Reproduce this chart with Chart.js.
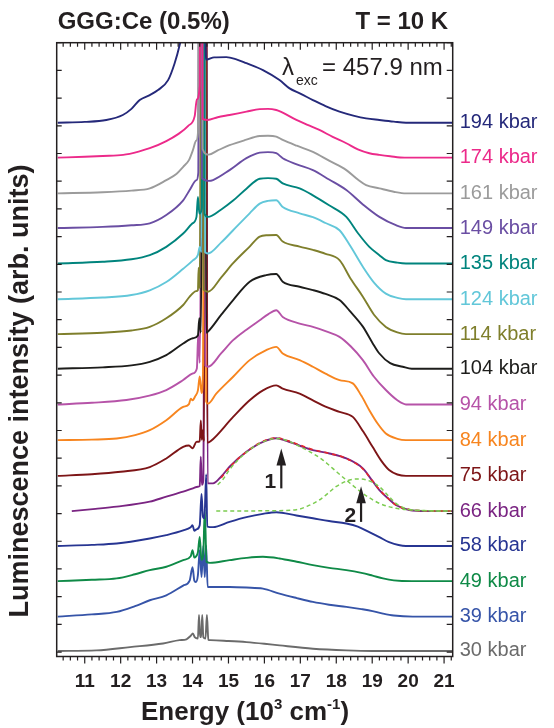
<!DOCTYPE html>
<html>
<head>
<meta charset="utf-8">
<script src="https://cdn.jsdelivr.net/npm/chart.js@4.4.1/dist/chart.umd.min.js"></script>
<style>
html,body{margin:0;padding:0;background:#ffffff;}
#wrap{width:554px;height:728px;position:relative;}
</style>
</head>
<body>
<div id="wrap"><canvas id="c"></canvas></div>
<script>
// ---------------- DATA ----------------
const pressures = ['194 kbar','174 kbar','161 kbar','149 kbar','135 kbar','124 kbar','114 kbar','104 kbar',
                   '94 kbar','84 kbar','75 kbar','66 kbar','58 kbar','49 kbar','39 kbar','30 kbar'];
const colors = ['#25297a','#ec2a8a','#9b9b9b','#6a4ea3','#00847d','#62c7d9','#7f7f2c','#1d1d1b',
                '#b653a8','#f7851f','#7d1517','#7a2482','#273592','#0f8a47','#3654a8','#6b6b6b'];
// vertical offset (baseline) of every spectrum, in plot units
const offsets = [19.11,17.85,16.56,15.31,14.03,12.74,11.48,10.23,8.94,7.65,6.36,5.09,3.83,2.56,1.28,0.04];

// spectra: [energy (10^3 cm^-1), intensity above own baseline]; 30 = clipped off the top of the frame
const s194 = [[10.25,0],[11.0,0.03],[11.6,0.1],[12.06,0.28],[12.3,0.5],[12.53,0.82],[12.81,1.0],[13.04,1.18],[13.32,1.54],[13.5,2.14],[13.64,2.8],[13.75,3.5],[14.0,5],[14.25,8],[14.33,30],[14.36,3],[14.39,2.28],[14.6,2.36],[14.94,2.37],[15.2,2.3],[15.5,2.15],[15.96,1.9],[16.42,1.54],[16.7,1.24],[17.0,1.05],[17.35,0.82],[17.7,0.6],[18.09,0.4],[18.5,0.25],[18.83,0.16],[19.2,0.1],[19.6,0.04],[19.94,0],[21.24,0]];
const s174 = [[10.25,0],[11.0,0.03],[11.5,0.06],[12.07,0.1],[12.5,0.22],[12.81,0.34],[13.27,0.6],[13.6,0.85],[13.88,1.15],[14.06,1.5],[14.12,2.1],[14.2,2.6],[14.24,30],[14.28,1.4],[14.42,1.36],[14.7,1.46],[15.03,1.54],[15.5,1.66],[15.87,1.75],[16.1,1.76],[16.33,1.72],[16.45,1.66],[16.89,1.36],[17.2,1.18],[17.53,1.0],[17.9,0.75],[18.28,0.52],[18.6,0.3],[18.92,0.16],[19.2,0.1],[19.5,0.05],[19.9,0],[21.24,0]];
const s161 = [[10.25,0],[11.5,0.04],[12.3,0.1],[12.81,0.18],[13.27,0.48],[13.55,0.7],[13.74,0.96],[13.9,1.2],[14.01,1.56],[14.1,1.9],[14.15,2.17],[14.22,30],[14.28,1.6],[14.45,1.4],[14.7,1.55],[15.03,1.74],[15.45,1.92],[15.87,2.07],[16.1,2.08],[16.33,2.05],[16.51,1.93],[16.9,1.72],[17.35,1.5],[17.8,1.18],[18.28,0.84],[18.6,0.5],[18.83,0.3],[19.2,0.18],[19.6,0.06],[19.94,0],[21.24,0]];
const s149 = [[10.25,0],[11.5,0.04],[12.3,0.1],[12.81,0.17],[13.27,0.47],[13.74,1.0],[13.92,1.37],[14.11,1.73],[14.16,2.0],[14.2,30],[14.26,1.8],[14.45,1.7],[14.57,1.73],[15.03,2.09],[15.5,2.52],[15.87,2.72],[16.1,2.74],[16.33,2.7],[16.51,2.52],[16.9,2.3],[17.35,2.09],[17.8,1.75],[18.28,1.37],[18.74,0.85],[19.2,0.4],[19.66,0.1],[19.94,0],[21.24,0]];
const s135 = [[10.25,0],[11.5,0.06],[12.3,0.15],[12.81,0.3],[13.27,0.6],[13.74,1.08],[14.0,1.45],[14.11,1.68],[14.15,2.4],[14.19,1.8],[14.26,2.0],[14.29,30],[14.33,1.8],[14.43,1.68],[14.8,1.95],[15.13,2.27],[15.5,2.7],[15.87,3.06],[16.1,3.08],[16.33,3.06],[16.51,2.89],[16.98,2.71],[17.35,2.46],[17.8,2.1],[18.28,1.68],[18.6,1.1],[18.92,0.6],[19.2,0.3],[19.38,0.12],[19.7,0.03],[19.94,0],[21.24,0]];
const s124 = [[10.25,0],[11.5,0.06],[12.3,0.15],[12.81,0.32],[13.27,0.62],[13.74,1.1],[14.01,1.4],[14.15,1.6],[14.2,1.89],[14.25,1.7],[14.3,30],[14.35,1.7],[14.43,1.65],[14.8,2.05],[15.13,2.49],[15.59,3.1],[15.87,3.45],[16.1,3.55],[16.33,3.57],[16.51,3.33],[16.98,3.1],[17.35,2.96],[17.7,2.75],[18.09,2.49],[18.4,1.9],[18.74,1.17],[19.05,0.6],[19.38,0.2],[19.7,0.05],[19.94,0],[21.24,0]];
const s114 = [[10.25,0],[11.5,0.05],[12.3,0.13],[12.81,0.26],[13.27,0.57],[13.74,1.05],[13.92,1.35],[14.1,1.55],[14.15,1.59],[14.17,2.4],[14.2,1.65],[14.27,30],[14.31,1.6],[14.43,1.53],[14.8,2.05],[15.13,2.56],[15.59,3.16],[15.87,3.52],[16.1,3.57],[16.33,3.58],[16.51,3.34],[16.98,3.16],[17.35,3.04],[17.7,2.9],[18.09,2.67],[18.4,2.0],[18.74,1.35],[19.05,0.7],[19.38,0.26],[19.7,0.06],[19.94,0],[21.24,0]];
const s104 = [[10.25,0],[11.5,0.05],[12.3,0.12],[12.81,0.25],[13.27,0.49],[13.74,0.91],[14.01,1.1],[14.15,1.2],[14.19,1.82],[14.23,1.3],[14.33,30],[14.38,1.3],[14.43,1.34],[14.8,1.95],[15.13,2.48],[15.59,3.14],[16.05,3.38],[16.33,3.42],[16.51,3.14],[16.98,2.96],[17.35,2.84],[17.7,2.7],[18.09,2.48],[18.4,2.05],[18.74,1.52],[19.0,0.95],[19.2,0.55],[19.5,0.2],[19.85,0.07],[20.1,0],[21.24,0]];
const s94  = [[10.25,0],[11.2,0.06],[12.16,0.16],[12.8,0.32],[13.27,0.52],[13.74,0.88],[14.01,1.12],[14.12,1.3],[14.16,2.56],[14.2,1.5],[14.32,30],[14.36,1.4],[14.43,1.36],[14.8,1.85],[15.13,2.32],[15.5,2.7],[15.87,3.04],[16.1,3.25],[16.33,3.4],[16.51,3.16],[16.98,2.92],[17.35,2.8],[17.7,2.65],[18.09,2.44],[18.4,2.1],[18.74,1.6],[19.05,1.0],[19.38,0.52],[19.7,0.15],[19.94,0],[21.24,0]];
const s84  = [[10.25,0],[11.2,0.02],[11.89,0.06],[12.4,0.18],[12.81,0.36],[13.27,0.72],[13.74,1.2],[13.9,1.3],[13.95,1.5],[14.0,1.44],[14.08,1.6],[14.15,1.8],[14.2,2.3],[14.25,1.7],[14.29,2.4],[14.34,30],[14.38,1.4],[14.43,1.32],[14.66,1.68],[15.13,2.29],[15.59,2.89],[16.05,3.25],[16.33,3.37],[16.51,3.13],[16.98,2.89],[17.35,2.65],[17.7,2.4],[18.09,2.17],[18.46,2.05],[18.7,1.6],[18.92,1.08],[19.15,0.6],[19.38,0.24],[19.7,0.05],[19.94,0],[21.24,0]];
const s75  = [[10.25,0],[11.2,0.06],[12.0,0.15],[12.81,0.32],[13.27,0.63],[13.74,1.05],[13.9,1.1],[14.0,1.0],[14.11,1.23],[14.2,1.25],[14.23,2.0],[14.26,1.3],[14.29,1.65],[14.32,1.25],[14.37,30],[14.41,1.2],[14.5,1.25],[15.13,2.13],[15.59,2.73],[15.96,3.09],[16.33,3.27],[16.51,3.15],[16.98,2.97],[17.35,2.73],[17.7,2.5],[18.09,2.31],[18.46,2.13],[18.75,1.6],[19.01,1.05],[19.25,0.55],[19.47,0.21],[19.7,0.05],[19.94,0],[21.24,0]];
const s66  = [[10.64,0],[11.3,0.08],[11.89,0.16],[12.81,0.34],[13.27,0.52],[13.74,0.7],[14.01,0.82],[14.15,0.88],[14.2,0.9],[14.23,1.96],[14.26,0.95],[14.3,1.1],[14.37,30],[14.42,1.0],[14.57,1.0],[14.8,1.25],[15.03,1.6],[15.5,2.14],[15.96,2.5],[16.33,2.63],[16.61,2.54],[17.0,2.35],[17.35,2.2],[17.81,2.08],[18.28,1.9],[18.74,1.54],[19.0,1.1],[19.2,0.76],[19.45,0.45],[19.66,0.22],[20.03,0.04],[20.5,0],[21.24,0]];
const s58  = [[10.25,0],[11.2,0.04],[11.89,0.09],[12.81,0.27],[13.27,0.39],[13.74,0.56],[13.95,0.68],[14.0,0.75],[14.05,0.55],[14.11,0.6],[14.2,0.75],[14.25,1.88],[14.29,1.05],[14.33,1.0],[14.38,2.58],[14.41,0.7],[14.57,0.68],[15.03,0.87],[15.5,1.04],[15.96,1.16],[16.33,1.22],[16.89,1.1],[17.35,1.0],[17.8,0.9],[18.28,0.81],[18.6,0.7],[18.92,0.5],[19.2,0.32],[19.47,0.14],[19.94,0],[21.24,0]];
const s49  = [[10.25,0],[11.2,0.05],[11.89,0.1],[12.4,0.25],[12.81,0.4],[13.27,0.52],[13.74,0.76],[13.95,0.9],[14.0,1.12],[14.05,0.85],[14.09,0.88],[14.15,1.05],[14.2,1.6],[14.25,0.76],[14.3,1.0],[14.34,2.6],[14.39,0.7],[14.48,0.66],[15.03,0.76],[15.5,0.84],[15.96,0.88],[16.42,0.82],[16.9,0.7],[17.35,0.58],[17.8,0.48],[18.28,0.4],[18.7,0.3],[19.01,0.2],[19.3,0.1],[19.6,0.03],[20.1,0],[21.24,0]];
const s39  = [[10.25,0],[11.2,0.08],[11.89,0.17],[12.4,0.38],[12.81,0.59],[13.27,0.77],[13.74,1.12],[13.92,1.3],[14.0,1.78],[14.05,1.3],[14.09,1.25],[14.15,1.5],[14.2,2.4],[14.25,1.43],[14.3,2.56],[14.34,1.43],[14.38,2.56],[14.42,1.07],[14.48,1.07],[15.03,1.07],[15.5,1.05],[15.96,1.01],[16.42,0.83],[16.9,0.67],[17.35,0.53],[17.8,0.43],[18.28,0.35],[18.7,0.27],[19.01,0.2],[19.3,0.11],[19.6,0.04],[20.13,0],[21.24,0]];
const s30  = [[10.25,0],[11.33,0.02],[12.26,0.14],[13.18,0.27],[13.64,0.39],[13.83,0.42],[13.95,0.55],[14.01,0.63],[14.06,0.5],[14.15,0.45],[14.18,1.3],[14.21,0.5],[14.24,0.5],[14.27,1.3],[14.3,0.5],[14.36,0.45],[14.4,1.3],[14.44,0.4],[14.5,0.39],[15.0,0.36],[15.5,0.32],[16.0,0.26],[16.42,0.2],[17.35,0.08],[18.28,0.02],[19.0,0],[21.24,0]];
const spectra = [s194,s174,s161,s149,s135,s124,s114,s104,s94,s84,s75,s66,s58,s49,s39,s30];

// two-band fit of the 66 kbar spectrum (above the same baseline)
const fitIndex = 11;
const fitTotal = [[14.8,1.2],[15.03,1.58],[15.5,2.14],[15.96,2.52],[16.33,2.64],[16.61,2.56],[17.0,2.38],[17.35,2.22],[17.81,2.08],[18.28,1.9],[18.74,1.52],[19.0,1.1],[19.2,0.78],[19.45,0.45],[19.66,0.22],[20.03,0.06],[20.5,0.01],[21.2,0]];
const fitBand1 = [[14.7,0.95],[14.85,1.15],[15.03,1.5],[15.5,2.12],[15.96,2.5],[16.33,2.62],[16.6,2.56],[17.0,2.32],[17.35,2.08],[17.62,1.85],[17.9,1.54],[18.28,1.12],[18.74,0.64],[19.2,0.28],[19.66,0.1],[20.13,0.04],[20.6,0.01],[21.2,0]];
const fitBand2 = [[14.66,0],[16.0,0.01],[16.89,0.05],[17.2,0.18],[17.53,0.4],[17.75,0.62],[17.99,0.88],[18.37,1.12],[18.65,1.16],[18.9,1.1],[19.2,0.88],[19.45,0.55],[19.66,0.28],[19.9,0.1],[20.13,0.04],[20.6,0.01],[21.2,0]];

// arrows marking band 1 and band 2: energy, bottom and tip in plot units
const arrows = [{label:'1', x:16.47, y0:5.91, y1:7.35},{label:'2', x:18.69, y0:4.70, y1:5.99}];

// axes
const xTickLabels = [11,12,13,14,15,16,17,18,19,20,21];
const xMinorStep = 0.2;
const yTickValues = [0,1,2,3,4,5,6,7,8,9,10,11,12,13,14,15,16,17,18,19,20,21,22];
const xRange = [10.22, 21.24];
const yRange = [-0.16, 22];

// ---------------- CHART ----------------
const FONT = '"Liberation Sans", Arial, Helvetica, sans-serif';
const INK = '#231f20';

const datasets = [];
spectra.forEach((s, i) => {
  datasets.push({
    label: pressures[i],
    data: s.map(p => ({x: p[0], y: offsets[i] + p[1]})),
    borderColor: colors[i], borderWidth: 1.9, pointRadius: 0,
    tension: 0.4, cubicInterpolationMode: 'monotone', fill: false, order: 1
  });
});
datasets.push({
  label: 'fit', data: fitTotal.map(p => ({x: p[0], y: offsets[fitIndex] + p[1]})),
  borderColor: '#e8262a', borderWidth: 1.6, borderDash: [4, 4], pointRadius: 0,
  tension: 0.4, cubicInterpolationMode: 'monotone', order: 0
});
[fitBand1, fitBand2].forEach(b => datasets.push({
  label: 'band', data: b.map(p => ({x: p[0], y: offsets[fitIndex] + p[1]})),
  borderColor: '#7ccc50', borderWidth: 1.5, borderDash: [4, 3], pointRadius: 0,
  tension: 0.4, cubicInterpolationMode: 'monotone', order: -1
}));

const decor = {
  id: 'decor',
  afterDatasetsDraw(chart) {
    const {ctx, chartArea: a, scales: {x, y}} = chart;
    ctx.save();
    // frame
    ctx.strokeStyle = INK; ctx.lineWidth = 1.5;
    ctx.strokeRect(a.left, a.top, a.right - a.left, a.bottom - a.top);
    // x ticks (top inward, bottom outward)
    ctx.lineWidth = 1.2;
    ctx.beginPath();
    const n = Math.floor((x.max - xRange[0]) / xMinorStep) + 2;
    const first = Math.ceil(x.min / xMinorStep) * xMinorStep;
    for (let i = 0; i < n; i++) {
      const v = first + i * xMinorStep;
      if (v > x.max) break;
      const px = x.getPixelForValue(v);
      const major = Math.abs(v - Math.round(v)) < 1e-6;
      const L = major ? 7 : 4;
      ctx.moveTo(px, a.top); ctx.lineTo(px, a.top + L);
      ctx.moveTo(px, a.bottom); ctx.lineTo(px, a.bottom + L);
    }
    // y ticks (inward on both sides)
    yTickValues.forEach(v => {
      const py = y.getPixelForValue(v);
      ctx.moveTo(a.left, py); ctx.lineTo(a.left + 5, py);
      ctx.moveTo(a.right, py); ctx.lineTo(a.right - 6, py);
    });
    ctx.stroke();

    // pressure labels
    ctx.font = '20px ' + FONT; ctx.textAlign = 'left'; ctx.textBaseline = 'middle';
    pressures.forEach((p, i) => {
      ctx.fillStyle = colors[i];
      ctx.fillText(p, a.right + 7, y.getPixelForValue(offsets[i]));
    });

    // arrows
    ctx.fillStyle = INK; ctx.strokeStyle = INK;
    arrows.forEach(ar => {
      const px = x.getPixelForValue(ar.x), p0 = y.getPixelForValue(ar.y0), p1 = y.getPixelForValue(ar.y1);
      ctx.lineWidth = 2.2;
      ctx.beginPath(); ctx.moveTo(px, p0); ctx.lineTo(px, p1 + 12); ctx.stroke();
      ctx.beginPath(); ctx.moveTo(px, p1); ctx.lineTo(px - 4.8, p1 + 17); ctx.lineTo(px + 4.8, p1 + 17); ctx.closePath(); ctx.fill();
      ctx.font = 'bold 21px ' + FONT; ctx.textAlign = 'right'; ctx.textBaseline = 'alphabetic';
      ctx.fillText(ar.label, px - 5, p0);
    });

    // header
    ctx.fillStyle = INK; ctx.textBaseline = 'alphabetic';
    ctx.font = 'bold 24px ' + FONT;
    ctx.textAlign = 'left'; ctx.fillText('GGG:Ce (0.5%)', a.left + 1, 29);
    ctx.textAlign = 'right'; ctx.fillText('T = 10 K', a.right - 4.5, 29);

    // excitation wavelength
    ctx.textAlign = 'left';
    ctx.font = '24px ' + FONT; ctx.fillText('\u03bb', 282, 75);
    ctx.font = '14px ' + FONT; ctx.fillText('exc', 296, 85);
    ctx.font = '24px ' + FONT; ctx.fillText('= 457.9 nm', 322, 75);

    // x title with superscripts
    const parts = [['Energy (10', 26, 0], ['3', 15, -11], [' cm', 26, 0], ['-1', 15, -11], [')', 26, 0]];
    let w = 0;
    parts.forEach(pt => { ctx.font = 'bold ' + pt[1] + 'px ' + FONT; w += ctx.measureText(pt[0]).width; });
    let tx = 245 - w / 2;
    parts.forEach(pt => {
      ctx.font = 'bold ' + pt[1] + 'px ' + FONT;
      ctx.fillText(pt[0], tx, 720 + pt[2]);
      tx += ctx.measureText(pt[0]).width;
    });

    // y title
    ctx.save();
    ctx.translate(21, 391); ctx.rotate(-Math.PI / 2);
    ctx.font = 'bold 27px ' + FONT; ctx.textAlign = 'center'; ctx.textBaseline = 'middle';
    ctx.fillText('Luminescence intensity (arb. units)', 0, 0);
    ctx.restore();

    ctx.restore();
  }
};

new Chart(document.getElementById('c'), {
  type: 'line',
  data: {datasets},
  options: {
    responsive: true, maintainAspectRatio: false, animation: false,
    layout: {padding: {left: 56.7, right: 101.3, top: 42.7, bottom: 0}},
    plugins: {legend: {display: false}, tooltip: {enabled: false}},
    scales: {
      x: {
        type: 'linear', min: xRange[0], max: xRange[1],
        afterBuildTicks: s => { s.ticks = xTickLabels.map(v => ({value: v})); },
        afterFit: s => { s.height = 71.5; },
        grid: {display: false, drawTicks: false},
        border: {display: false},
        ticks: {font: {family: FONT, size: 19, weight: 'bold'}, color: INK, padding: 14, maxRotation: 0, autoSkip: false}
      },
      y: {type: 'linear', min: yRange[0], max: yRange[1], display: false}
    }
  },
  plugins: [decor]
});
</script>
</body>
</html>
